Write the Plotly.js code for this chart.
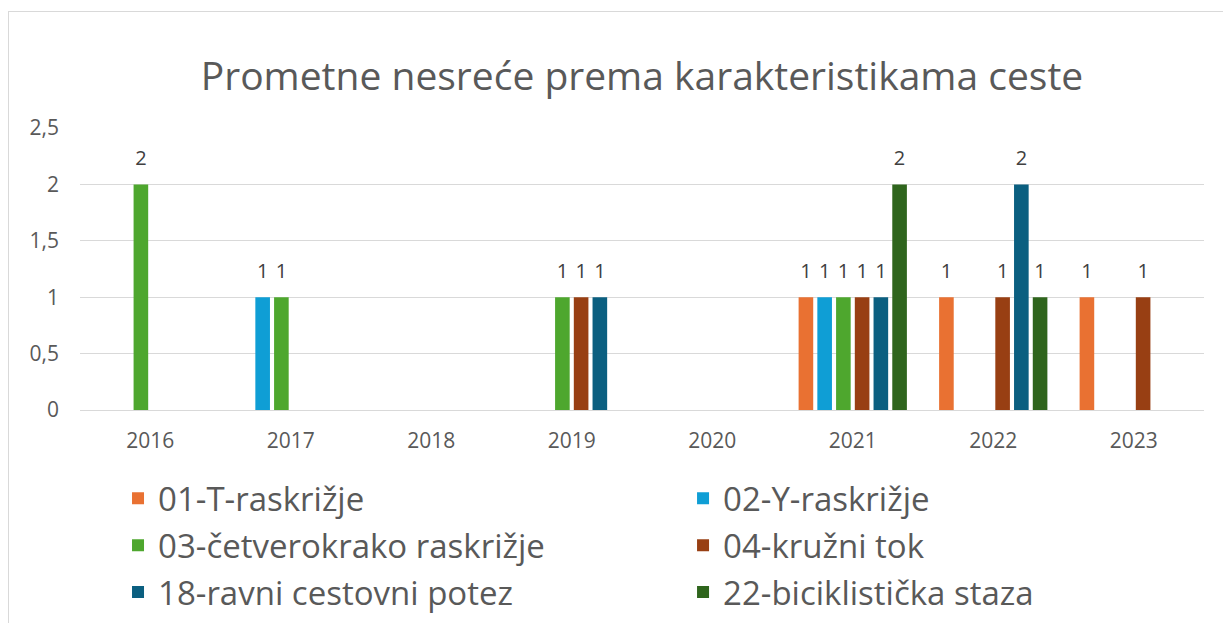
<!DOCTYPE html>
<html>
<head>
<meta charset="utf-8">
<script src="https://cdn.plot.ly/plotly-3.0.1.min.js"></script>
<style>
  html, body { margin: 0; padding: 0; background: #ffffff; }
  #wrap { position: relative; width: 1223px; height: 623px; overflow: hidden; }
  #chart { position: absolute; left: 0; top: 0; width: 1223px; height: 623px; }
  #frame { position: absolute; left: 8px; top: 11px; width: 1300px; height: 700px;
           border-left: 1px solid #d9d9d9; border-top: 1px solid #d9d9d9; pointer-events: none; }
</style>
</head>
<body>
<div id="wrap">
  <div id="chart"></div>
  <div id="frame"></div>
</div>
<script>
// ---- data ----
const years = ['2016', '2017', '2018', '2019', '2020', '2021', '2022', '2023'];
const seriesNames = ['01-T-raskrižje', '02-Y-raskrižje', '03-četverokrako raskrižje',
                     '04-kružni tok', '18-ravni cestovni potez', '22-biciklistička staza'];
const s01 = [null, null, null, null, null, 1, 1, 1];
const s02 = [null, 1, null, null, null, 1, null, null];
const s03 = [2, 1, null, 1, null, 1, null, null];
const s04 = [null, null, null, 1, null, 1, 1, 1];
const s18 = [null, null, null, 1, null, 1, 2, null];
const s22 = [null, null, null, null, null, 2, 1, null];
const seriesValues = [s01, s02, s03, s04, s18, s22];
const seriesColors = ['#E97132', '#0F9ED5', '#4EA72E', '#983F13', '#0B5F80', '#2F651D'];
// legend column for each series (two-column legend, row by row)
const legendColumn = ['legend', 'legend2', 'legend', 'legend2', 'legend', 'legend2'];

const FONT = '"Open Sans", Roboto, sans-serif';
const TXT = '#595959';

const traces = [];
seriesValues.forEach((vals, i) => {
  traces.push({
    type: 'bar', name: seriesNames[i], x: years, y: vals,
    offsetgroup: 'g' + i,
    legend: legendColumn[i], legendgroup: 'lg' + i,
    marker: { color: seriesColors[i] },
    hoverinfo: 'skip'
  });
});
// data labels, aligned with the bar groups
seriesValues.forEach((vals, i) => {
  traces.push({
    type: 'scatter', mode: 'markers+text', x: years, y: vals,
    offsetgroup: 'g' + i,
    text: vals.map(v => v === null ? '' : String(v)),
    textposition: 'top center',
    textfont: { family: FONT, size: 20, color: '#404040' },
    marker: { size: 21, color: 'rgba(0,0,0,0)' },
    showlegend: false, hoverinfo: 'skip', cliponaxis: false
  });
});

const legendCommon = {
  orientation: 'v', xref: 'container', xanchor: 'left',
  y: 0.245, yref: 'container', yanchor: 'top',
  font: { family: FONT, size: 33, color: TXT },
  traceorder: 'grouped', tracegroupgap: 1,
  bgcolor: 'rgba(0,0,0,0)',
  itemclick: false, itemdoubleclick: false
};

const layout = {
  width: 1223, height: 623,
  paper_bgcolor: 'rgba(0,0,0,0)', plot_bgcolor: 'rgba(0,0,0,0)',
  margin: { l: 80, r: 19, t: 128, b: 213, autoexpand: false },
  separators: ',.',
  barmode: 'group', bargap: 0.2, bargroupgap: 0.22,
  scattermode: 'group', scattergap: 0.2,
  font: { family: FONT, color: TXT },
  title: {
    text: 'Prometne nesreće prema karakteristikama ceste',
    font: { family: FONT, size: 39, color: TXT },
    x: 0.5, xref: 'paper', xanchor: 'center',
    y: 0.877, yref: 'container', yanchor: 'middle'
  },
  xaxis: {
    type: 'category', categoryorder: 'array', categoryarray: years,
    showgrid: false, zeroline: false, showline: false, ticks: '',
    tickfont: { family: FONT, size: 21, color: TXT },
    ticklabelstandoff: 16, fixedrange: true, automargin: false
  },
  yaxis: {
    range: [0, 2.5], dtick: 0.5, tick0: 0,
    showgrid: true, gridcolor: '#d9d9d9', gridwidth: 1,
    zeroline: true, zerolinecolor: '#d9d9d9', zerolinewidth: 1,
    showline: false, ticks: '',
    tickfont: { family: FONT, size: 21, color: TXT },
    ticklabelstandoff: 20, fixedrange: true, automargin: false
  },
  showlegend: true,
  legend: Object.assign({}, legendCommon, { x: 0.0965 }),
  legend2: Object.assign({}, legendCommon, { x: 0.5585 })
};

Plotly.newPlot('chart', traces, layout, { displayModeBar: false, staticPlot: true });
</script>
</body>
</html>
